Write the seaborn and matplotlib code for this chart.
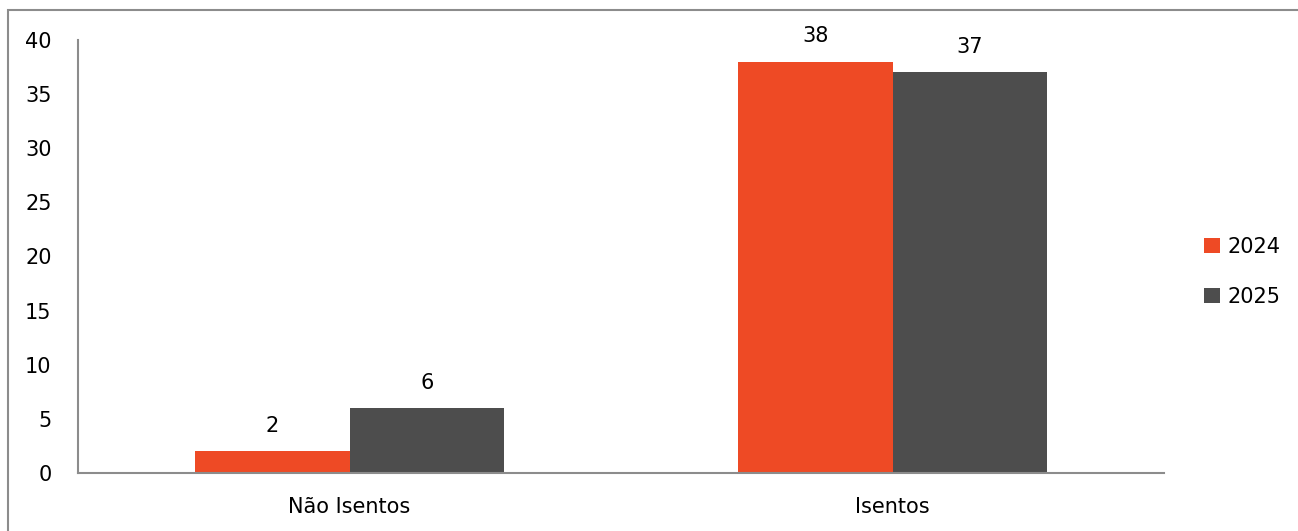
import matplotlib
matplotlib.use('Agg')
import matplotlib.pyplot as plt
import seaborn as sns
import pandas as pd
from matplotlib.patches import Rectangle

# data
categorias = ['Não Isentos', 'Isentos']
anos = ['2024', '2025']
valores_2024 = [2, 38]
valores_2025 = [6, 37]
cores = ['#EE4A25', '#4D4D4D']

df = pd.DataFrame({
    'Categoria': categorias * 2,
    'Ano': [anos[0]] * 2 + [anos[1]] * 2,
    'Valor': valores_2024 + valores_2025,
})

sns.set_theme(style='white')
plt.rcParams['font.family'] = ['DejaVu Sans']

fig = plt.figure(figsize=(12.98, 5.31), dpi=100)
ax = fig.add_axes([78 / 1298, 1 - 473 / 531, (1164 - 78) / 1298, (473 - 40) / 531])

sns.barplot(data=df, x='Categoria', y='Valor', hue='Ano', palette=cores,
            width=0.57, gap=0, saturation=1, ax=ax, linewidth=0)

for cont in ax.containers:
    ax.bar_label(cont, labels=[f'{v:g}' for v in cont.datavalues],
                 padding=11, fontsize=15, color='black')

ax.set_ylim(0, 40)
ax.set_xlim(-0.5, 1.5)
ax.set_yticks(range(0, 41, 5))
ax.set_xlabel('')
ax.set_ylabel('')
ax.tick_params(axis='both', length=0, labelsize=15, colors='black')
ax.tick_params(axis='y', pad=19)
ax.tick_params(axis='x', pad=17)
for s in ['top', 'right']:
    ax.spines[s].set_visible(False)
for s in ['left', 'bottom']:
    ax.spines[s].set_color('#8C8C8C')
    ax.spines[s].set_linewidth(1.5)

ax.legend(title=None, frameon=False, loc='center left',
          bbox_to_anchor=(1.02, 0.465), fontsize=15, labelcolor='black',
          handlelength=0.75, handleheight=0.75, handletextpad=0.35,
          labelspacing=1.45)

# outer frame around the figure
fig.patches.append(Rectangle((8 / 1298, -0.05), 1.2, 1 - 10 / 531 + 0.05,
                             transform=fig.transFigure, fill=False,
                             edgecolor='#8C8C8C', linewidth=1.5))

fig.savefig('out.png', dpi=100)
